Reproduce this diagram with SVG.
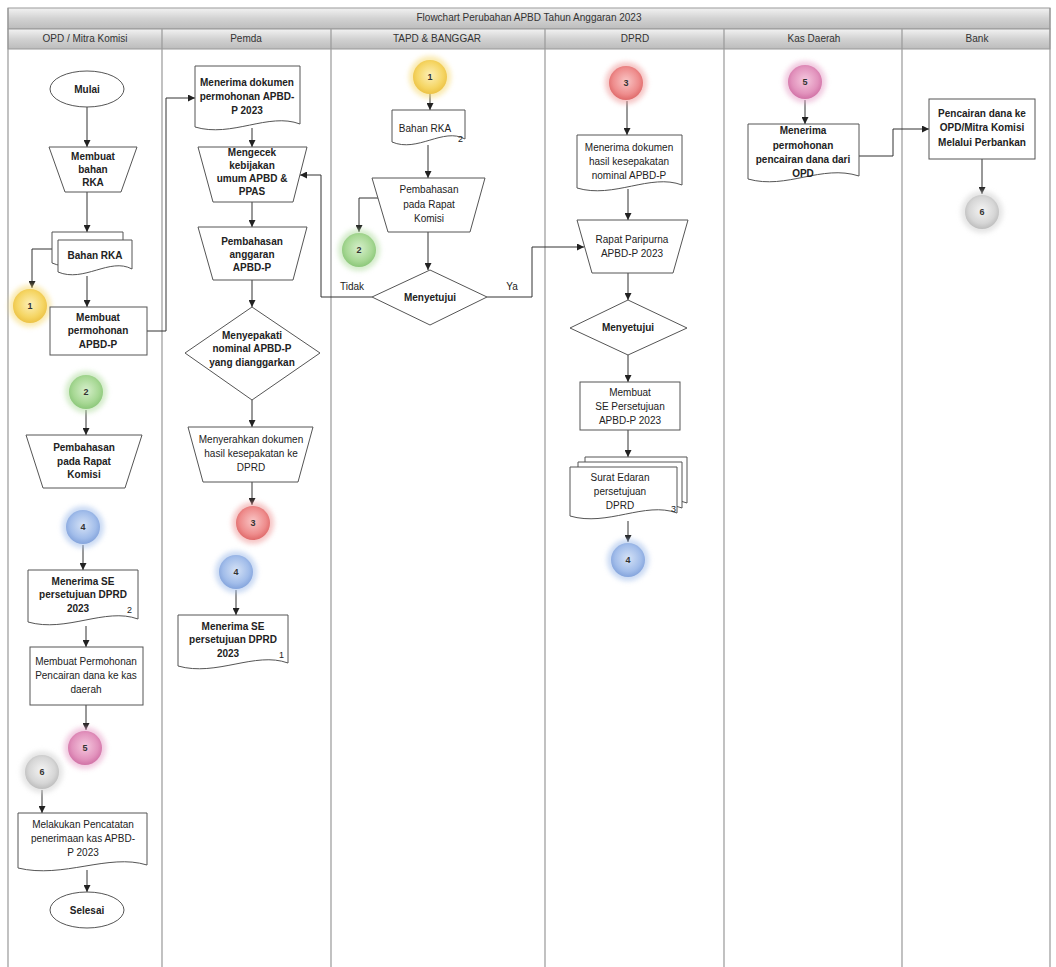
<svg xmlns="http://www.w3.org/2000/svg" width="1056" height="967" viewBox="0 0 1056 967">
<style>
  text { font-family: "Liberation Sans", Arial, sans-serif; font-size: 10px; fill: #222; text-anchor: middle; }
  .b { font-weight: bold; }
  .hdr { font-size: 10px; fill: #333; }
  .sh { fill: #fff; stroke: #555; stroke-width: 1; }
  .lane { stroke: #999; stroke-width: 1.2; fill: none; }
  .cn { fill: none; stroke: #333; stroke-width: 1; marker-end: url(#arr); }
  .num { font-size: 9px; font-weight: bold; fill: #333; }
  .sm { font-size: 9px; text-anchor: start; }
</style>
<defs>
  <marker id="arr" markerWidth="7" markerHeight="7" refX="7" refY="3.5" orient="auto" markerUnits="userSpaceOnUse">
    <path d="M0,0 L7,3.5 L0,7 z" fill="#222"/>
  </marker>
  <linearGradient id="hg" x1="0" y1="0" x2="0" y2="1">
    <stop offset="0" stop-color="#f2f2f2"/>
    <stop offset="0.5" stop-color="#d2d2d2"/>
    <stop offset="1" stop-color="#bcbcbc"/>
  </linearGradient>
  <radialGradient id="gY" cx="0.5" cy="0.45" r="0.55"><stop offset="0" stop-color="#fdf0b8"/><stop offset="0.7" stop-color="#f5d563"/><stop offset="1" stop-color="#ecc245"/></radialGradient>
  <radialGradient id="gG" cx="0.5" cy="0.45" r="0.55"><stop offset="0" stop-color="#d6efcb"/><stop offset="0.7" stop-color="#a7d894"/><stop offset="1" stop-color="#8cc77a"/></radialGradient>
  <radialGradient id="gR" cx="0.5" cy="0.45" r="0.55"><stop offset="0" stop-color="#f9c6c6"/><stop offset="0.7" stop-color="#ee8c8c"/><stop offset="1" stop-color="#df6a6a"/></radialGradient>
  <radialGradient id="gB" cx="0.5" cy="0.45" r="0.55"><stop offset="0" stop-color="#d5e2f6"/><stop offset="0.7" stop-color="#a2bdea"/><stop offset="1" stop-color="#84a4dc"/></radialGradient>
  <radialGradient id="gP" cx="0.5" cy="0.45" r="0.55"><stop offset="0" stop-color="#f5c8de"/><stop offset="0.7" stop-color="#e293bd"/><stop offset="1" stop-color="#d172a6"/></radialGradient>
  <radialGradient id="gS" cx="0.5" cy="0.45" r="0.55"><stop offset="0" stop-color="#f4f4f4"/><stop offset="0.7" stop-color="#d6d6d6"/><stop offset="1" stop-color="#bdbdbd"/></radialGradient>
  <filter id="glow" x="-50%" y="-50%" width="200%" height="200%"><feGaussianBlur stdDeviation="2.5"/></filter>
</defs>

<rect x="0" y="0" width="1056" height="967" fill="#fff"/>

<g id="frame">
  <rect x="8" y="8" width="1042" height="21" fill="url(#hg)" stroke="#999"/>
  <rect x="8" y="29" width="1042" height="20" fill="url(#hg)" stroke="#999"/>
  <text class="hdr" x="529" y="21">Flowchart Perubahan APBD Tahun Anggaran 2023</text>
  <text class="hdr" x="85" y="42">OPD / Mitra Komisi</text>
  <text class="hdr" x="246" y="42">Pemda</text>
  <text class="hdr" x="437" y="42">TAPD &amp; BANGGAR</text>
  <text class="hdr" x="635" y="42">DPRD</text>
  <text class="hdr" x="814" y="42">Kas Daerah</text>
  <text class="hdr" x="977" y="42">Bank</text>
  <path class="lane" d="M8,8 V967 M1050,8 V967 M162,29 V967 M331,29 V967 M545,29 V967 M724,29 V967 M902,29 V967"/>
</g>

<g id="connectors">
  <path class="cn" d="M87,107 V147"/>
  <path class="cn" d="M87,192 V232"/>
  <path class="cn" d="M52,249 H32 V288"/>
  <path class="cn" d="M87,276 V307"/>
  <path class="cn" d="M147,331 H166 V98 H195"/>
  <path class="cn" d="M86,410 V435"/>
  <path class="cn" d="M83,545 V570"/>
  <path class="cn" d="M86,626 V647"/>
  <path class="cn" d="M86,705 V730"/>
  <path class="cn" d="M42,790 V813"/>
  <path class="cn" d="M87,870 V892"/>
  <path class="cn" d="M252,128 V147"/>
  <path class="cn" d="M252,202 V227"/>
  <path class="cn" d="M252,280 V307"/>
  <path class="cn" d="M252,400 V427"/>
  <path class="cn" d="M252,482 V505"/>
  <path class="cn" d="M236,590 V615"/>
  <path class="cn" d="M430,94 V110"/>
  <path class="cn" d="M428,145 V178"/>
  <path class="cn" d="M379,198 H359 V232"/>
  <path class="cn" d="M428,232 V270"/>
  <path class="cn" d="M372,297 H321 V175 H300"/>
  <path class="cn" d="M487,297 H532 V247 H584"/>
  <path class="cn" d="M627,101 V135"/>
  <path class="cn" d="M628,189 V220"/>
  <path class="cn" d="M628,273 V300"/>
  <path class="cn" d="M628,355 V382"/>
  <path class="cn" d="M628,430 V457"/>
  <path class="cn" d="M628,521 V542"/>
  <path class="cn" d="M805,100 V124"/>
  <path class="cn" d="M859,156 H893 V129 H929"/>
  <path class="cn" d="M982,159 V194"/>
  <text x="352" y="290">Tidak</text>
  <text x="512" y="290">Ya</text>
</g>

<!-- Lane 1 -->
<g id="mulai"><ellipse class="sh" cx="87" cy="89" rx="37" ry="18"/><text class="b" x="87" y="92.5">Mulai</text></g>
<g id="membuat-bahan-rka"><polygon class="sh" points="49,147 137,147 121,192 65,192"/>
  <text class="b" x="93" y="160">Membuat</text><text class="b" x="93" y="173">bahan</text><text class="b" x="93" y="186">RKA</text></g>
<g id="bahan-rka-1">
  <path class="sh" d="M52,232 H123 V260 C102.7,248 76.9,274 52,263 Z"/>
  <path class="sh" d="M58,240 H132 V269 C109.8,257 83.9,283 58,272 Z"/>
  <text class="b" x="95" y="259">Bahan RKA</text></g>
<g id="c1-opd"><circle cx="30" cy="306" r="21" fill="#f7dc7a" opacity="0.6" filter="url(#glow)"/><circle cx="30" cy="306" r="17" fill="url(#gY)"/><text class="num" x="30" y="309">1</text></g>
<g id="membuat-permohonan"><rect class="sh" x="50" y="307" width="97" height="48"/>
  <text class="b" x="98" y="321">Membuat</text><text class="b" x="98" y="334">permohonan</text><text class="b" x="98" y="348">APBD-P</text></g>
<g id="c2-opd"><circle cx="86" cy="392" r="21" fill="#b8e0a8" opacity="0.6" filter="url(#glow)"/><circle cx="86" cy="392" r="17" fill="url(#gG)"/><text class="num" x="86" y="395">2</text></g>
<g id="pembahasan-opd"><polygon class="sh" points="26,435 142,435 125,488 43,488"/>
  <text class="b" x="84" y="451">Pembahasan</text><text class="b" x="84" y="465">pada Rapat</text><text class="b" x="84" y="478">Komisi</text></g>
<g id="c4-opd"><circle cx="83" cy="527" r="21" fill="#a8c2ec" opacity="0.6" filter="url(#glow)"/><circle cx="83" cy="527" r="17" fill="url(#gB)"/><text class="num" x="83" y="530">4</text></g>
<g id="menerima-se-opd"><path class="sh" d="M28,570 H138 V619 C105,607 66.5,633 28,622 Z"/>
  <text class="b" x="83" y="585">Menerima SE</text><text class="b" x="83" y="598">persetujuan DPRD</text><text class="b" x="78" y="612">2023</text><text class="sm" x="127" y="613">2</text></g>
<g id="membuat-permohonan-pencairan"><rect class="sh" x="30" y="647" width="113" height="58"/>
  <text x="86" y="665">Membuat Permohonan</text><text x="86" y="679">Pencairan dana ke kas</text><text x="86" y="693">daerah</text></g>
<g id="c5-opd"><circle cx="85" cy="748" r="21" fill="#e8a8cc" opacity="0.6" filter="url(#glow)"/><circle cx="85" cy="748" r="17" fill="url(#gP)"/><text class="num" x="85" y="751">5</text></g>
<g id="c6-opd"><circle cx="42" cy="772" r="21" fill="#d4d4d4" opacity="0.6" filter="url(#glow)"/><circle cx="42" cy="772" r="17" fill="url(#gS)"/><text class="num" x="42" y="775">6</text></g>
<g id="melakukan-pencatatan"><path class="sh" d="M18,813 H147 V865 C108.3,853 63.2,879 18,868 Z"/>
  <text x="83" y="828">Melakukan Pencatatan</text><text x="83" y="842">penerimaan kas APBD-</text><text x="83" y="856">P 2023</text></g>
<g id="selesai"><ellipse class="sh" cx="87" cy="910" rx="37" ry="18"/><text class="b" x="87" y="913.5">Selesai</text></g>

<!-- Lane 2 -->
<g id="menerima-dokumen-permohonan"><path class="sh" d="M195,66 H300 V124 C268.5,112 231.8,138 195,127 Z"/>
  <text class="b" x="247" y="86">Menerima dokumen</text><text class="b" x="247" y="100">permohonan APBD-</text><text class="b" x="247" y="114">P 2023</text></g>
<g id="mengecek"><polygon class="sh" points="198,147 307,147 293,202 213,202"/>
  <text class="b" x="252" y="156">Mengecek</text><text class="b" x="252" y="169">kebijakan</text><text class="b" x="252" y="182">umum APBD &amp;</text><text class="b" x="252" y="195">PPAS</text></g>
<g id="pembahasan-anggaran"><polygon class="sh" points="198,227 307,227 293,280 213,280"/>
  <text class="b" x="252" y="245">Pembahasan</text><text class="b" x="252" y="258">anggaran</text><text class="b" x="252" y="271">APBD-P</text></g>
<g id="menyepakati"><polygon class="sh" points="252,307 320,353 252,400 185,353"/>
  <text class="b" x="252" y="339">Menyepakati</text><text class="b" x="252" y="352">nominal APBD-P</text><text class="b" x="252" y="366">yang dianggarkan</text></g>
<g id="menyerahkan"><polygon class="sh" points="188,427 313,427 298,482 203,482"/>
  <text x="251" y="443">Menyerahkan dokumen</text><text x="251" y="457">hasil kesepakatan ke</text><text x="251" y="471">DPRD</text></g>
<g id="c3-pemda"><circle cx="253" cy="523" r="21" fill="#f0a0a0" opacity="0.6" filter="url(#glow)"/><circle cx="253" cy="523" r="17" fill="url(#gR)"/><text class="num" x="253" y="526">3</text></g>
<g id="c4-pemda"><circle cx="236" cy="572" r="21" fill="#a8c2ec" opacity="0.6" filter="url(#glow)"/><circle cx="236" cy="572" r="17" fill="url(#gB)"/><text class="num" x="236" y="575">4</text></g>
<g id="menerima-se-pemda"><path class="sh" d="M178,615 H288 V663 C255,651 216.5,677 178,666 Z"/>
  <text class="b" x="233" y="630">Menerima SE</text><text class="b" x="233" y="643">persetujuan DPRD</text><text class="b" x="228" y="657">2023</text><text class="sm" x="279" y="658">1</text></g>

<!-- Lane 3 -->
<g id="c1-tapd"><circle cx="430" cy="77" r="21" fill="#f7dc7a" opacity="0.6" filter="url(#glow)"/><circle cx="430" cy="77" r="17" fill="url(#gY)"/><text class="num" x="430" y="80">1</text></g>
<g id="bahan-rka-tapd"><path class="sh" d="M392,110 H465 V139 C443.1,127 417.6,153 392,142 Z"/>
  <text x="425" y="132">Bahan RKA</text><text class="sm" x="458" y="142">2</text></g>
<g id="pembahasan-tapd"><polygon class="sh" points="372,178 485,178 470,232 388,232"/>
  <text x="429" y="193">Pembahasan</text><text x="429" y="208">pada Rapat</text><text x="429" y="222">Komisi</text></g>
<g id="c2-tapd"><circle cx="359" cy="250" r="21" fill="#b8e0a8" opacity="0.6" filter="url(#glow)"/><circle cx="359" cy="250" r="17" fill="url(#gG)"/><text class="num" x="359" y="253">2</text></g>
<g id="menyetujui-tapd"><polygon class="sh" points="430,270 487,297 430,325 372,297"/>
  <text class="b" x="430" y="301">Menyetujui</text></g>

<!-- Lane 4 -->
<g id="c3-dprd"><circle cx="626" cy="83" r="21" fill="#f0a0a0" opacity="0.6" filter="url(#glow)"/><circle cx="626" cy="83" r="17" fill="url(#gR)"/><text class="num" x="626" y="86">3</text></g>
<g id="menerima-dokumen-hasil"><path class="sh" d="M577,135 H682 V185 C650.5,173 613.8,199 577,188 Z"/>
  <text x="629" y="151">Menerima dokumen</text><text x="629" y="165">hasil kesepakatan</text><text x="629" y="179">nominal APBD-P</text></g>
<g id="rapat-paripurna"><polygon class="sh" points="577,220 688,220 673,273 592,273"/>
  <text x="632" y="243">Rapat Paripurna</text><text x="632" y="257">APBD-P 2023</text></g>
<g id="menyetujui-dprd"><polygon class="sh" points="628,300 687,328 628,355 570,328"/>
  <text class="b" x="628" y="331">Menyetujui</text></g>
<g id="membuat-se"><rect class="sh" x="580" y="382" width="100" height="48"/>
  <text x="630" y="396">Membuat</text><text x="630" y="410">SE Persetujuan</text><text x="630" y="424">APBD-P 2023</text></g>
<g id="surat-edaran">
  <path class="sh" d="M585,457 H687 V503 C655.6,491 620.7,517 585,506 Z"/>
  <path class="sh" d="M578,462 H682 V508 C650.8,496 614.4,522 578,511 Z"/>
  <path class="sh" d="M570,467 H677 V513 C644.9,501 607.5,527 570,516 Z"/>
  <text x="620" y="481">Surat Edaran</text><text x="620" y="495">persetujuan</text><text x="620" y="509">DPRD</text><text class="sm" x="671" y="512">3</text></g>
<g id="c4-dprd"><circle cx="628" cy="560" r="21" fill="#a8c2ec" opacity="0.6" filter="url(#glow)"/><circle cx="628" cy="560" r="17" fill="url(#gB)"/><text class="num" x="628" y="563">4</text></g>

<!-- Lane 5 -->
<g id="c5-kas"><circle cx="805" cy="82" r="21" fill="#e8a8cc" opacity="0.6" filter="url(#glow)"/><circle cx="805" cy="82" r="17" fill="url(#gP)"/><text class="num" x="805" y="85">5</text></g>
<g id="menerima-permohonan-pencairan"><path class="sh" d="M748,124 H859 V176 C821.3,164 786.9,190 748,179 Z"/>
  <text class="b" x="803" y="134">Menerima</text><text class="b" x="803" y="149">permohonan</text><text class="b" x="803" y="163">pencairan dana dari</text><text class="b" x="803" y="177">OPD</text></g>

<!-- Lane 6 -->
<g id="pencairan-dana"><rect class="sh" x="929" y="99" width="106" height="60"/>
  <text class="b" x="982" y="117">Pencairan dana ke</text><text class="b" x="982" y="131">OPD/Mitra Komisi</text><text class="b" x="982" y="146">Melalui Perbankan</text></g>
<g id="c6-bank"><circle cx="982" cy="212" r="21" fill="#d4d4d4" opacity="0.6" filter="url(#glow)"/><circle cx="982" cy="212" r="17" fill="url(#gS)"/><text class="num" x="982" y="215">6</text></g>
</svg>
